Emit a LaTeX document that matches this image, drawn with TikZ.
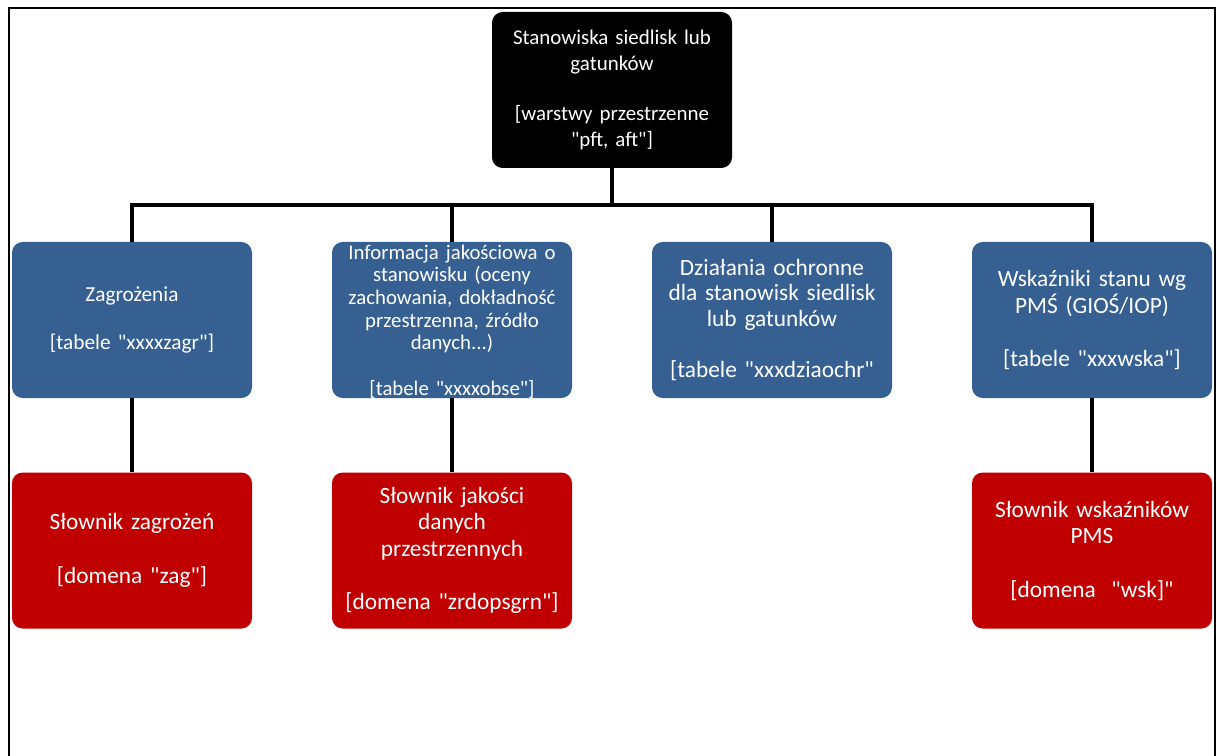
\documentclass[tikz,border=0pt]{standalone}
\usepackage{fontspec}
\setmainfont{Carlito}[Ligatures=TeXOff]
\usetikzlibrary{
positioning
}
\definecolor{tabblue}{RGB}{55,96,146}
\definecolor{dictred}{RGB}{192,0,0}
\tikzset{
box/.style={
rounded corners=8pt,
align=center,
text=white,
inner sep=0pt,
minimum width=180pt,
minimum height=117pt,
text width=176pt,
font=\fontsize{17.5}{20}\selectfont
},
topbox/.style={
box,
fill=black,
font=\fontsize{15.7}{19}\selectfont
},
tabbox/.style={
box,
fill=tabblue
},
dictbox/.style={
box,
fill=dictred
},
link/.style={
line width=3.6pt,
line join=miter
},
frame/.style={
line width=1.6pt
}
}

\begin{document}
\begin{tikzpicture}[x=0.75pt,y=-0.75pt]
\useasboundingbox (0,0) rectangle (1218,756);
\draw[frame] (9,756) -- (9,8) -- (1215,8) -- (1215,756);

\node[topbox] (sta) at (612,90) {Stanowiska siedlisk lub\\gatunków\\~\\{}[warstwy przestrzenne\\"pft, aft"]};

\node[tabbox, font=\fontsize{16}{18}\selectfont] (zag) at (132,320) {Zagrożenia\\~\\{}[tabele "xxxxzagr"]};
\node[tabbox] (obs) at (452,320) {};
\node[tabbox, font=\fontsize{17.5}{19.2}\selectfont] (dzi) at (772,320) {Działania ochronne\\dla stanowisk siedlisk\\lub gatunków\\~\\{}[tabele "xxxdziaochr"};
\node[tabbox] (wsk) at (1092,320) {Wskaźniki stanu wg\\PMŚ (GIOŚ/IOP)\\~\\{}[tabele "xxxwska"]};

\node[dictbox, below=55.5pt of zag] (dzag) {Słownik zagrożeń\\~\\{}[domena "zag"]};
\node[dictbox, below=55.5pt of obs] (dobs) {Słownik jakości\\danych\\przestrzennych\\~\\{}[domena "zrdopsgrn"]};
\node[dictbox, below=55.5pt of wsk] (dwsk) {Słownik wskaźników\\PMS\\~\\{}[domena~~"wsk]"};

\coordinate (bus) at (612,205);
\draw[link] (sta.south) -- (bus);
\draw[link] (zag.north) -- (zag.north |- bus) -- (wsk.north |- bus) -- (wsk.north);
\draw[link] (obs.north) -- (obs.north |- bus);
\draw[link] (dzi.north) -- (dzi.north |- bus);

\draw[link] (zag) -- (dzag);
\draw[link] (obs) -- (dobs);
\draw[link] (wsk) -- (dwsk);

% text runs over the box edges, so it sits on its own
\node[box, minimum height=0pt, yshift=-1pt, font=\fontsize{15.6}{17}\selectfont] (obstxt) at (obs) {Informacja jakościowa o\\stanowisku (oceny\\zachowania, dokładność\\przestrzenna, źródło\\danych...)\\~\\{}[tabele "xxxxobse"]};
\end{tikzpicture}
\end{document}
